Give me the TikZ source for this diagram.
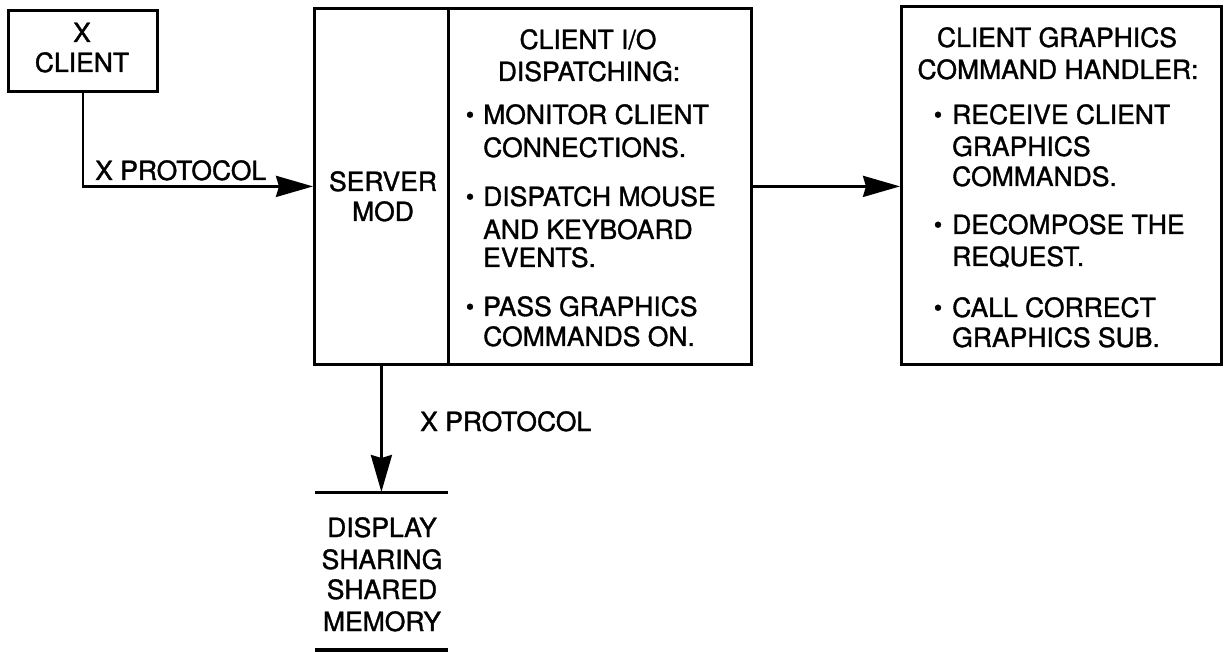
\documentclass[tikz,border=0pt]{standalone}
\usepackage{fontspec}
\setmainfont{TeX Gyre Heros}[FakeBold=1.3]
\usetikzlibrary{arrows.meta}
\tikzset{
  box/.style={draw, line width=2.8pt, inner sep=0pt, anchor=north west},
  txt/.style={inner sep=0pt, anchor=base, font=\fontsize{26.5}{32}\selectfont},
  ltxt/.style={inner sep=0pt, anchor=base west, font=\fontsize{26.5}{32}\selectfont},
  bul/.style={inner sep=0pt, anchor=base, font=\fontsize{24}{24}\selectfont},
  conn/.style={line width=2.8pt, -{Stealth[length=37pt, width=21pt, inset=3pt]}},
  storeline/.style={line width=3pt},
}
\begin{document}
\begin{tikzpicture}[x=1pt, y=-1pt]
\useasboundingbox (0,0) rectangle (1224,652);
% boxes
\node[box, minimum width=149pt, minimum height=81pt] (xclient) at (7,9) {};
\node[box, minimum width=134pt, minimum height=356pt] (srvmod) at (313,7) {};
\node[box, minimum width=303pt, minimum height=356pt] (dispatch) at (447,7) {};
\node[box, minimum width=320pt, minimum height=358pt] (handler) at (900,5) {};
% data store
\coordinate (stl) at (315,492);
\coordinate (str) at (448,492);
\coordinate (storetop) at (381,492);
\coordinate (sbl) at (315,650);
\coordinate (sbr) at (448,650);
\draw[storeline] (stl) -- (str);
\draw[line width=4pt] (sbl) -- (sbr);
% texts
\node[txt] (t1) at (82,42) {X};
\node[txt] (t2) at (82,72) {CLIENT};
\node[txt] (s1) at (383,191) {SERVER};
\node[txt] (s2) at (383,221) {MOD};
\node[txt] (d1) at (588,49) {CLIENT I/O};
\node[txt] (d2) at (589,81) {DISPATCHING:};
\node[bul] (db1) at (470,123) {•};
\node[ltxt] (d3) at (483,124) {MONITOR CLIENT};
\node[ltxt] (d4) at (483,157) {CONNECTIONS.};
\node[bul] (db2) at (470,205) {•};
\node[ltxt] (d5) at (483,206) {DISPATCH MOUSE};
\node[ltxt] (d6) at (483,239) {AND KEYBOARD};
\node[ltxt] (d7) at (483,267) {EVENTS.};
\node[bul] (db3) at (470,315) {•};
\node[ltxt] (d8) at (483,316) {PASS GRAPHICS};
\node[ltxt] (d9) at (483,346) {COMMANDS ON.};
\node[txt] (h1) at (1057,47) {CLIENT GRAPHICS};
\node[txt] (h2) at (1058,79) {COMMAND HANDLER:};
\node[bul] (hb1) at (938,123) {•};
\node[ltxt] (h3) at (952,124) {RECEIVE CLIENT};
\node[ltxt] (h4) at (952,156) {GRAPHICS};
\node[ltxt] (h5) at (952,186) {COMMANDS.};
\node[bul] (hb2) at (938,233) {•};
\node[ltxt] (h6) at (952,234) {DECOMPOSE THE};
\node[ltxt] (h7) at (952,266) {REQUEST.};
\node[bul] (hb3) at (938,316) {•};
\node[ltxt] (h8) at (952,317) {CALL CORRECT};
\node[ltxt] (h9) at (952,347) {GRAPHICS SUB.};
\node[txt] (m1) at (382,537) {DISPLAY};
\node[txt] (m2) at (382,569) {SHARING};
\node[txt] (m3) at (382,599) {SHARED};
\node[txt] (m4) at (382,631) {MEMORY};
\node[ltxt] (p1) at (95,180) {X PROTOCOL};
\node[ltxt] (p2) at (420,431) {X PROTOCOL};
% connectors
\draw[conn] (xclient.south) |- (srvmod.west);
\draw[conn] (dispatch.east) -- (handler.west |- dispatch.east);
\draw[conn] (srvmod.south) -- (srvmod.south |- storetop);
\end{tikzpicture}
\end{document}
